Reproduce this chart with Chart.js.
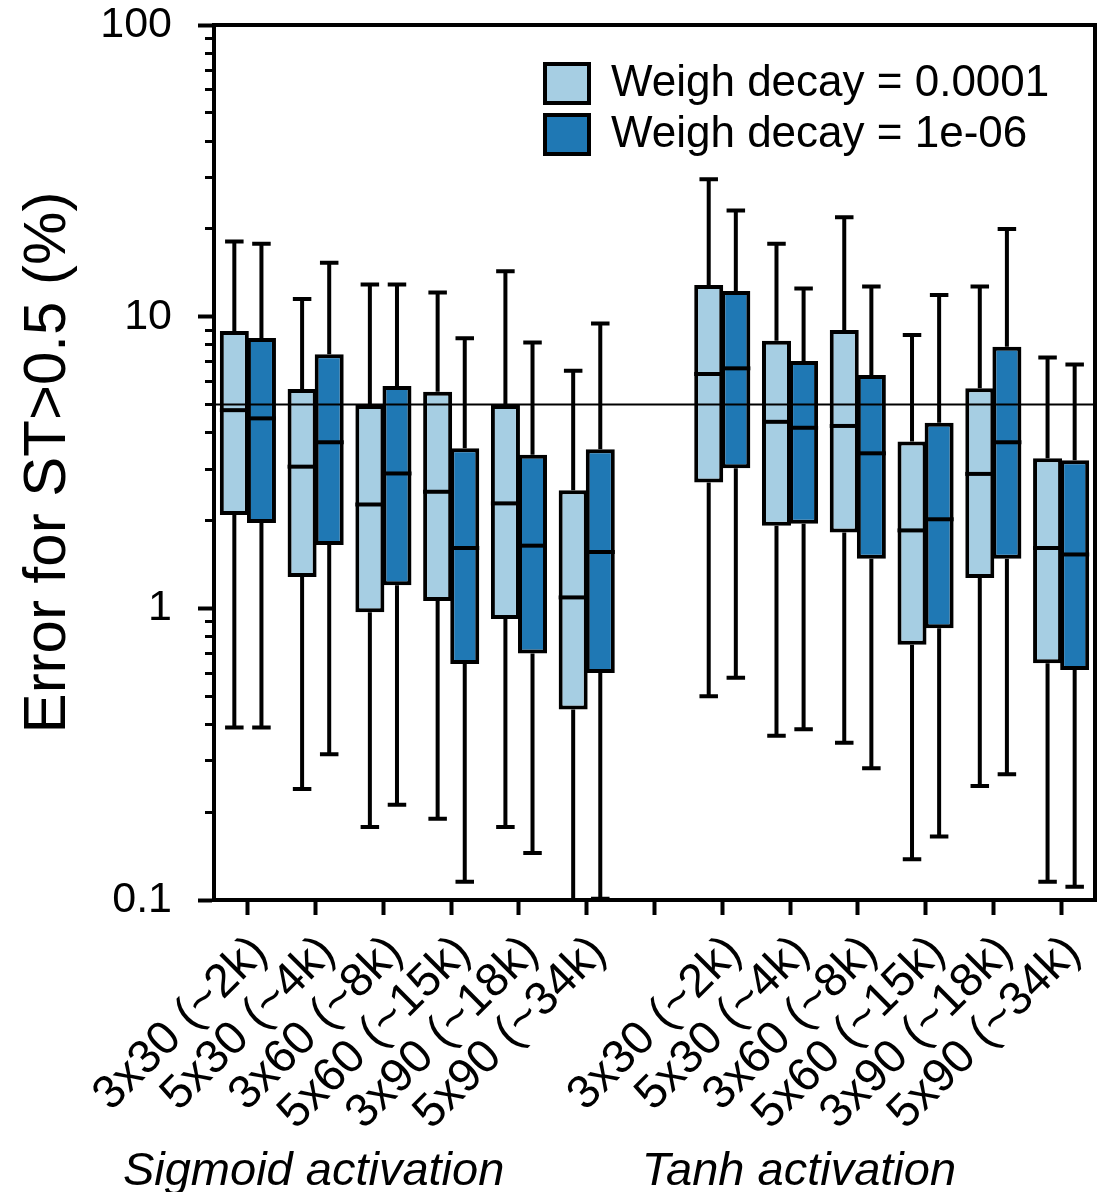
<!DOCTYPE html>
<html lang="en">
<head>
<meta charset="UTF-8">
<title>Error for ST&gt;0.5 by network size</title>
<script src="https://cdn.jsdelivr.net/npm/chart.js"></script>
<style>
  html, body { margin: 0; padding: 0; background: #fff; }
  #box { display: block; }
</style>
</head>
<body>
<canvas id="box" width="1106" height="1192"></canvas>
<script>
// categories (empty slot = gap between the two activation groups)
const categories = ['3x30 (~2k)', '5x30 (~4k)', '3x60 (~8k)', '5x60 (~15k)', '3x90 (~18k)', '5x90 (~34k)', '',
                    '3x30 (~2k)', '5x30 (~4k)', '3x60 (~8k)', '5x60 (~15k)', '3x90 (~18k)', '5x90 (~34k)'];
const groupLabels = ['Sigmoid activation', 'Tanh activation'];
const groupAt = [0.97, 8.13];   // category index under which each group label sits

// weigh decay = 0.0001
const lightName = 'Weigh decay = 0.0001';
const lightMin = [0.39, 0.24, 0.178, 0.19, 0.178, 0.08, null, 0.50, 0.366, 0.346, 0.138, 0.246, 0.1155];
const lightQ1  = [2.09, 1.28, 0.97, 1.06, 0.92, 0.45, null, 2.70, 1.92, 1.82, 0.75, 1.27, 0.648];
const lightMed = [4.78, 3.06, 2.27, 2.51, 2.29, 1.09, null, 6.36, 4.36, 4.22, 1.85, 2.89, 1.61];
const lightQ3  = [8.93, 5.65, 4.98, 5.53, 4.98, 2.54, null, 12.83, 8.27, 9.0, 3.73, 5.68, 3.27];
const lightMax = [18.1, 11.5, 12.9, 12.1, 14.3, 6.52, null, 29.6, 17.8, 21.9, 8.65, 12.7, 7.25];

// weigh decay = 1e-06
const darkName = 'Weigh decay = 1e-06';
const darkMin = [0.39, 0.316, 0.212, 0.1155, 0.145, 0.101, null, 0.578, 0.385, 0.283, 0.165, 0.27, 0.111];
const darkQ1  = [1.96, 1.65, 1.20, 0.644, 0.70, 0.60, null, 3.02, 1.95, 1.48, 0.854, 1.48, 0.614];
const darkMed = [4.48, 3.71, 2.90, 1.61, 1.64, 1.56, null, 6.65, 4.16, 3.40, 2.02, 3.71, 1.53];
const darkQ3  = [8.45, 7.43, 5.78, 3.54, 3.36, 3.51, null, 12.24, 7.04, 6.31, 4.33, 7.88, 3.22];
const darkMax = [17.8, 15.3, 12.9, 8.43, 8.16, 9.48, null, 23.1, 12.5, 12.7, 11.86, 19.96, 6.86];

const refLine = 5;
const yTicks = [0.1, 1, 10, 100];
const yTickLabels = ['0.1', '1', '10', '100'];
const yMinorTicks = [0.2, 0.3, 0.4, 0.5, 0.6, 0.7, 0.8, 0.9, 2, 3, 4, 5, 6, 7, 8, 9, 20, 30, 40, 50, 60, 70, 80, 90];

const FONT = "'Liberation Sans', Arial, Helvetica, sans-serif";
const LW = 4;

const series = [
  { min: lightMin, q1: lightQ1, med: lightMed, q3: lightQ3, max: lightMax },
  { min: darkMin, q1: darkQ1, med: darkMed, q3: darkQ3, max: darkMax }
];

function boxes(q1, q3) {
  return q1.map((v, i) => v == null ? null : [v, q3[i]]);
}

// whiskers, caps, medians, 5% line, top/right spines, group labels
const boxParts = {
  id: 'boxParts',
  afterLayout(chart) {
    // put the legend in the top right corner of the plot
    const lg = chart.legend;
    lg.left = 538;
    lg.top = 54.5;
  },
  afterDatasetsDraw(chart) {
    const { ctx, chartArea: a, scales } = chart;
    const y = scales.y;
    ctx.save();
    ctx.beginPath();
    ctx.rect(a.left, a.top, a.width, a.height);
    ctx.clip();
    ctx.strokeStyle = '#000';
    series.forEach((s, di) => {
      const meta = chart.getDatasetMeta(di);
      meta.data.forEach((bar, i) => {
        if (s.med[i] == null) return;
        const { x, width } = bar.getProps(['x', 'width'], true);
        const half = width / 2;
        const pMin = y.getPixelForValue(s.min[i]);
        const pQ1 = y.getPixelForValue(s.q1[i]);
        const pMed = y.getPixelForValue(s.med[i]);
        const pQ3 = y.getPixelForValue(s.q3[i]);
        const pMax = y.getPixelForValue(s.max[i]);
        ctx.lineWidth = LW;
        ctx.lineCap = 'butt';
        ctx.beginPath();
        ctx.moveTo(x, pQ1); ctx.lineTo(x, pMin);
        ctx.moveTo(x, pQ3); ctx.lineTo(x, pMax);
        ctx.stroke();
        ctx.lineCap = 'square';
        ctx.beginPath();
        ctx.moveTo(x - half / 2, pMin); ctx.lineTo(x + half / 2, pMin);
        ctx.moveTo(x - half / 2, pMax); ctx.lineTo(x + half / 2, pMax);
        ctx.stroke();
        ctx.lineCap = 'butt';
        ctx.beginPath();
        ctx.moveTo(x - half, pMed); ctx.lineTo(x + half, pMed);
        ctx.stroke();
      });
    });
    // reference line at 5 %
    const pr = y.getPixelForValue(refLine);
    ctx.lineWidth = 2;
    ctx.beginPath();
    ctx.moveTo(a.left, pr); ctx.lineTo(a.right, pr);
    ctx.stroke();
    ctx.restore();

    // top and right spines
    ctx.save();
    ctx.strokeStyle = '#000';
    ctx.lineWidth = LW;
    ctx.beginPath();
    ctx.moveTo(a.left - 2, a.top); ctx.lineTo(a.right, a.top); ctx.lineTo(a.right, a.bottom + 2);
    ctx.stroke();
    ctx.restore();
  },
  afterDraw(chart) {
    const { ctx, scales: { x } } = chart;
    ctx.save();
    ctx.fillStyle = '#000';
    ctx.font = 'italic 47px ' + FONT;
    ctx.textAlign = 'center';
    ctx.textBaseline = 'alphabetic';
    groupLabels.forEach((t, i) => {
      ctx.fillText(t, x.getPixelForValue(groupAt[i]), 1185);
    });
    ctx.restore();
  }
};

new Chart(document.getElementById('box'), {
  type: 'bar',
  data: {
    labels: categories,
    datasets: [
      {
        label: lightName,
        data: boxes(lightQ1, lightQ3),
        backgroundColor: '#a6cee3',
        borderColor: '#000',
        borderWidth: LW,
        borderSkipped: false,
        stack: 'light'
      },
      {
        label: darkName,
        data: boxes(darkQ1, darkQ3),
        backgroundColor: '#1f78b4',
        borderColor: '#000',
        borderWidth: LW,
        borderSkipped: false,
        stack: 'dark'
      }
    ]
  },
  options: {
    responsive: false,
    animation: false,
    categoryPercentage: 0.8,
    barPercentage: 1.07,
    layout: { padding: { top: 25, right: 11, left: 0, bottom: 0 } },
    plugins: {
      tooltip: { enabled: false },
      legend: {
        position: 'chartArea',
        align: 'start',
        labels: {
          color: '#000',
          font: { family: FONT, size: 44 },
          boxWidth: 44,
          boxHeight: 39,
          padding: 7
        }
      }
    },
    scales: {
      x: {
        type: 'category',
        offset: true,
        grid: { display: true, offset: false, drawOnChartArea: false, tickLength: 15, tickWidth: LW, tickColor: '#000' },
        border: { display: true, width: LW, color: '#000' },
        ticks: {
          autoSkip: false,
          minRotation: 45,
          maxRotation: 45,
          padding: 10,
          labelOffset: 12,
          color: '#000',
          font: { family: FONT, size: 47 }
        },
        afterFit(scale) {
          scale.height = 292;
          scale.paddingLeft = 0;
          scale.paddingRight = 0;
        }
      },
      y: {
        type: 'logarithmic',
        position: 'left',
        weight: 1,
        min: 0.1,
        max: 100,
        grid: { drawOnChartArea: false, tickLength: 16, tickWidth: LW, tickColor: '#000' },
        border: { display: true, width: LW, color: '#000' },
        afterBuildTicks(scale) {
          scale.ticks = yTicks.map(v => ({ value: v, major: true }));
        },
        ticks: {
          padding: 26,
          color: '#000',
          font: { family: FONT, size: 43 },
          callback: v => yTickLabels[yTicks.indexOf(v)]
        },
        title: {
          display: true,
          text: 'Error for ST>0.5 (%)',
          color: '#000',
          font: { family: FONT, size: 60 },
          padding: { top: 12, bottom: 0 }
        },
        afterFit(scale) {
          scale.width = 214;
          scale.paddingTop = 0;
          scale.paddingBottom = 0;
        }
      },
      yMinor: {
        type: 'logarithmic',
        position: 'left',
        weight: 0,
        min: 0.1,
        max: 100,
        grid: { drawOnChartArea: false, tickLength: 9, tickWidth: 3, tickColor: '#000' },
        border: { display: false },
        ticks: { display: false },
        afterBuildTicks(scale) {
          scale.ticks = yMinorTicks.map(v => ({ value: v }));
        },
        afterFit(scale) { scale.width = 0; }
      }
    }
  },
  plugins: [boxParts]
});
</script>
</body>
</html>
